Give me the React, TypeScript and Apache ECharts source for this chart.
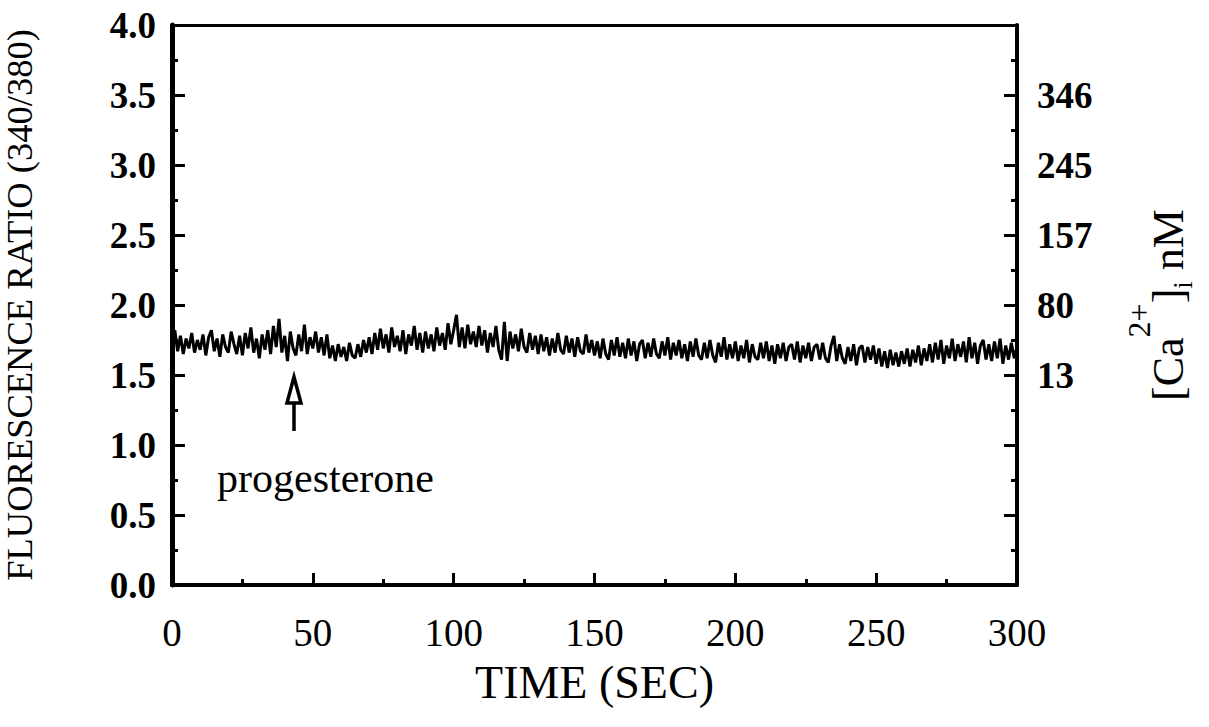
import React, { useEffect, useRef } from "react";
import * as echarts from "echarts";

// Fluorescence ratio (340/380), one reading per second, t = 0..300 s
const ratio: number[] = [
  1.70, 1.82, 1.67, 1.78, 1.65, 1.76, 1.69, 1.80, 1.66, 1.75,
  1.68, 1.79, 1.64, 1.77, 1.82, 1.67, 1.76, 1.63, 1.79, 1.70,
  1.66, 1.81, 1.72, 1.65, 1.78, 1.64, 1.80, 1.69, 1.84, 1.66,
  1.76, 1.62, 1.79, 1.68, 1.82, 1.65, 1.85, 1.70, 1.90, 1.66,
  1.78, 1.60, 1.81, 1.69, 1.64, 1.79, 1.67, 1.86, 1.65, 1.77,
  1.69, 1.81, 1.66, 1.77, 1.64, 1.79, 1.62, 1.71, 1.60, 1.72,
  1.63, 1.70, 1.60, 1.73, 1.64, 1.62, 1.72, 1.63, 1.75, 1.66,
  1.77, 1.65, 1.80, 1.68, 1.83, 1.69, 1.79, 1.66, 1.84, 1.70,
  1.78, 1.67, 1.82, 1.65, 1.79, 1.71, 1.85, 1.68, 1.80, 1.66,
  1.81, 1.69, 1.79, 1.67, 1.84, 1.71, 1.80, 1.68, 1.87, 1.72,
  1.82, 1.93, 1.70, 1.84, 1.69, 1.86, 1.72, 1.81, 1.70, 1.85,
  1.71, 1.82, 1.66, 1.80, 1.70, 1.85, 1.68, 1.61, 1.88, 1.60,
  1.81, 1.69, 1.79, 1.67, 1.83, 1.70, 1.66, 1.80, 1.68, 1.78,
  1.65, 1.79, 1.67, 1.77, 1.64, 1.76, 1.66, 1.80, 1.68, 1.65,
  1.78, 1.66, 1.76, 1.63, 1.77, 1.67, 1.65, 1.79, 1.66, 1.75,
  1.64, 1.74, 1.62, 1.76, 1.65, 1.61, 1.75, 1.64, 1.77, 1.63,
  1.73, 1.62, 1.76, 1.64, 1.74, 1.60, 1.72, 1.75, 1.62, 1.73,
  1.63, 1.76, 1.65, 1.62, 1.74, 1.64, 1.77, 1.61, 1.73, 1.64,
  1.75, 1.62, 1.72, 1.60, 1.74, 1.63, 1.76, 1.64, 1.61, 1.73,
  1.62, 1.75, 1.64, 1.59, 1.73, 1.63, 1.77, 1.61, 1.72, 1.62,
  1.74, 1.60, 1.71, 1.62, 1.75, 1.59, 1.72, 1.63, 1.61, 1.73,
  1.62, 1.74, 1.60, 1.71, 1.58, 1.72, 1.62, 1.73, 1.60, 1.70,
  1.72, 1.61, 1.74, 1.59, 1.71, 1.62, 1.73, 1.60, 1.70, 1.72,
  1.61, 1.73, 1.62, 1.59, 1.71, 1.78, 1.60, 1.72, 1.62, 1.58,
  1.70, 1.60, 1.72, 1.57, 1.69, 1.71, 1.59, 1.70, 1.61, 1.71,
  1.58, 1.69, 1.56, 1.67, 1.55, 1.68, 1.57, 1.66, 1.56, 1.67,
  1.58, 1.69, 1.56, 1.68, 1.59, 1.71, 1.57, 1.69, 1.60, 1.72,
  1.59, 1.73, 1.61, 1.75, 1.58, 1.71, 1.62, 1.76, 1.60, 1.72,
  1.63, 1.74, 1.59, 1.77, 1.62, 1.73, 1.58, 1.71, 1.75, 1.61,
  1.72, 1.60, 1.74, 1.62, 1.76, 1.58, 1.71, 1.61, 1.73, 1.62,
  1.70,
];

// Right-axis calibration: ratio positions and [Ca2+]i (nM) labels
const caRatios: number[] = [1.5, 2.0, 2.5, 3.0, 3.5];
const caLabels: string[] = ["13", "80", "157", "245", "346"];

const xTitle = "TIME (SEC)";
const yTitle = "FLUORESCENCE RATIO (340/380)";
const annotation = "progesterone";

const FONT = "'Liberation Serif', 'Times New Roman', serif";

export default function App() {
  const ref = useRef<HTMLDivElement>(null);
  useEffect(() => {
    if (!ref.current) return;
    const chart = echarts.init(ref.current, null, { renderer: "svg" });
    const data = ratio.map((v, i) => [i, v]);
    const caMap: Record<string, string> = {};
    caRatios.forEach((r, i) => (caMap[r.toFixed(1)] = caLabels[i]));

    chart.setOption({
      animation: false,
      backgroundColor: "#ffffff",
      grid: {
        left: 172,
        right: 192,
        top: 25,
        bottom: 142,
        containLabel: false,
        outerBoundsMode: "none",
      },
      xAxis: [
        {
          type: "value",
          position: "bottom",
          min: 0,
          max: 300,
          interval: 50,
          name: xTitle,
          nameLocation: "middle",
          nameGap: 74,
          nameTextStyle: { fontFamily: FONT, fontSize: 46, color: "#000" },
          axisLine: { show: true, onZero: false, lineStyle: { color: "#000", width: 4 } },
          axisTick: { show: true, inside: true, length: 12, lineStyle: { color: "#000", width: 3 } },
          minorTick: { show: true, splitNumber: 2, length: 6, lineStyle: { color: "#000", width: 3 } },
          axisLabel: { fontFamily: FONT, fontSize: 39, color: "#000", margin: 28 },
          splitLine: { show: false },
        },
        {
          type: "value",
          position: "top",
          min: 0,
          max: 300,
          axisLine: { show: true, onZero: false, lineStyle: { color: "#000", width: 3 } },
          axisTick: { show: false },
          axisLabel: { show: false },
          splitLine: { show: false },
        },
      ],
      yAxis: [
        {
          type: "value",
          position: "left",
          min: 0,
          max: 4,
          interval: 0.5,
          name: yTitle,
          nameLocation: "middle",
          nameRotate: 90,
          nameGap: 134,
          nameTextStyle: { fontFamily: FONT, fontSize: 36.5, color: "#000" },
          axisLine: { show: true, onZero: false, lineStyle: { color: "#000", width: 5 } },
          axisTick: { show: true, inside: true, length: 13, lineStyle: { color: "#000", width: 3 } },
          minorTick: { show: true, splitNumber: 2, length: 6, lineStyle: { color: "#000", width: 3 } },
          axisLabel: {
            fontFamily: FONT,
            fontSize: 37,
            fontWeight: "bold",
            color: "#000",
            margin: 16,
            formatter: (v: number) => v.toFixed(1),
          },
          splitLine: { show: false },
        },
        {
          type: "value",
          position: "right",
          min: 0,
          max: 4,
          interval: 0.5,
          name: "{a|[Ca}{sup|2+}{a|]}{sub|i}{a| nM}",
          nameLocation: "middle",
          nameRotate: 90,
          nameGap: 110,
          nameTextStyle: {
            fontFamily: FONT,
            color: "#000",
            rich: {
              a: {
                fontFamily: FONT,
                fontSize: 44,
                color: "#000",
                lineHeight: 70,
                height: 58,
                verticalAlign: "bottom",
              },
              sup: {
                fontFamily: FONT,
                fontSize: 32,
                color: "#000",
                lineHeight: 24,
                height: 24,
                verticalAlign: "top",
              },
              sub: {
                fontFamily: FONT,
                fontSize: 27,
                color: "#000",
                lineHeight: 28,
                height: 28,
                verticalAlign: "bottom",
              },
            },
          },
          axisLine: { show: true, onZero: false, lineStyle: { color: "#000", width: 4 } },
          axisTick: { show: true, inside: true, length: 13, lineStyle: { color: "#000", width: 3 } },
          minorTick: { show: true, splitNumber: 2, length: 6, lineStyle: { color: "#000", width: 3 } },
          axisLabel: {
            fontFamily: FONT,
            fontSize: 37,
            fontWeight: "bold",
            color: "#000",
            margin: 20,
            formatter: (v: number) => caMap[v.toFixed(1)] || "",
          },
          splitLine: { show: false },
        },
      ],
      series: [
        {
          type: "line",
          xAxisIndex: 0,
          yAxisIndex: 0,
          data,
          showSymbol: false,
          symbol: "none",
          lineStyle: { color: "#000", width: 3 },
          silent: true,
        },
      ],
      graphic: [
        {
          type: "polygon",
          shape: { points: [[294, 377], [287, 403], [301, 403]] },
          style: { fill: "#fff", stroke: "#000", lineWidth: 3.5 },
        },
        {
          type: "line",
          shape: { x1: 294, y1: 403, x2: 294, y2: 431 },
          style: { stroke: "#000", lineWidth: 3.5 },
        },
        {
          type: "text",
          left: 217,
          top: 457,
          style: { text: annotation, font: `42px ${FONT}`, fill: "#000" },
        },
      ],
    });
    return () => chart.dispose();
  }, []);
  return (
    <div
      ref={ref}
      style={{ position: "fixed", left: 0, top: 0, width: 1209, height: 727, background: "#fff" }}
    />
  );
}
